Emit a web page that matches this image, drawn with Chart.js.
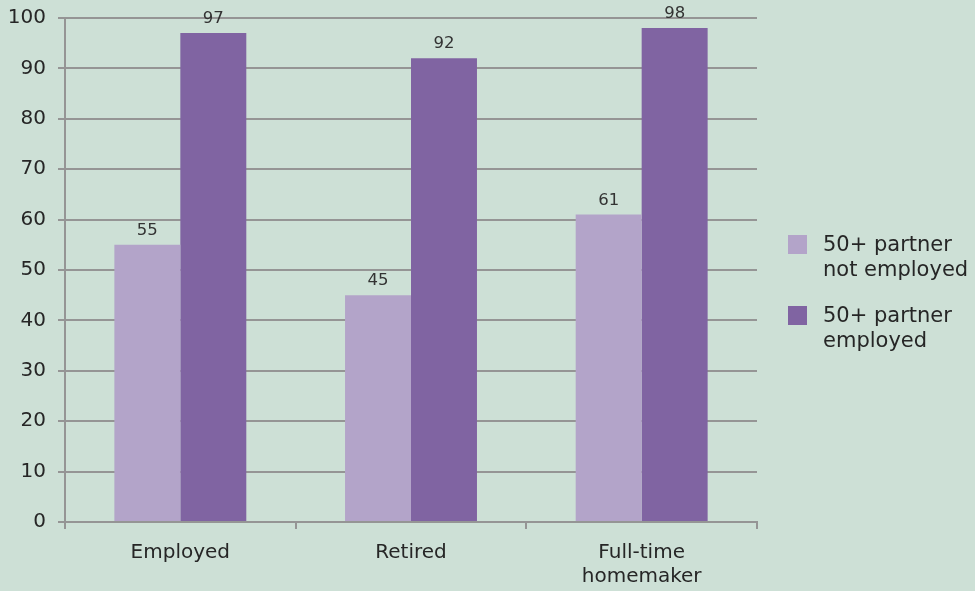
<!DOCTYPE html>
<html>
<head>
<meta charset="utf-8">
<script src="https://cdn.jsdelivr.net/npm/chart.js@4/dist/chart.umd.min.js"></script>
<style>
  html, body { margin: 0; padding: 0; background: #cde0d6; }
  #wrap { position: relative; width: 975px; height: 591px; }
  #leyenda {
    position: absolute; left: 788px; top: 232px;
    font-family: "DejaVu Sans", Verdana, sans-serif; font-size: 21px; color: #262626;
    line-height: 25px;
  }
  .item { display: flex; align-items: flex-start; margin-bottom: 21px; }
  .caja { width: 19px; height: 19px; margin-top: 3px; margin-right: 16px; flex: none; }
</style>
</head>
<body>
<div id="wrap">
  <canvas id="grafico" width="975" height="591"></canvas>
  <div id="leyenda"></div>
</div>
<script>
// Datos
const categorias = ["Employed", "Retired", ["Full-time", "homemaker"]];
const noEmpleado = [55, 45, 61];
const empleado = [97, 92, 98];
const etiquetasSeries = [["50+ partner", "not employed"], ["50+ partner", "employed"]];
const colores = ["#b3a4c9", "#8064a2"];

const fuente = "'DejaVu Sans', Verdana, sans-serif";
const colorTexto = "#262626";
const colorRejilla = "#959595";

// Valores encima de cada barra
const etiquetasValor = {
  id: "etiquetasValor",
  afterDatasetsDraw(chart) {
    const ctx = chart.ctx;
    ctx.save();
    ctx.font = "16.5px " + fuente;
    ctx.fillStyle = "#333";
    ctx.textAlign = "center";
    ctx.textBaseline = "alphabetic";
    chart.data.datasets.forEach((ds, i) => {
      chart.getDatasetMeta(i).data.forEach((bar, j) => {
        ctx.fillText(ds.data[j], bar.x, bar.y - 10);
      });
    });
    ctx.restore();
  }
};

const ctx = document.getElementById("grafico").getContext("2d");
new Chart(ctx, {
  type: "bar",
  data: {
    labels: categorias,
    datasets: [
      { label: etiquetasSeries[0].join(" "), data: noEmpleado, backgroundColor: colores[0] },
      { label: etiquetasSeries[1].join(" "), data: empleado, backgroundColor: colores[1] }
    ]
  },
  options: {
    responsive: false,
    animation: false,
    devicePixelRatio: 1,
    layout: { padding: { left: 0, right: 218, top: 18, bottom: 0 } },
    datasets: { bar: { categoryPercentage: 0.572, barPercentage: 1 } },
    plugins: { legend: { display: false }, tooltip: { enabled: false } },
    scales: {
      x: {
        afterFit: s => { s.height = 69; },
        grid: { offset: true, drawOnChartArea: false, color: colorRejilla, lineWidth: 2, tickLength: 7 },
        border: { color: colorRejilla, width: 2 },
        ticks: { color: colorTexto, font: { family: fuente, size: 20 }, padding: 12, maxRotation: 0 }
      },
      y: {
        min: 0, max: 100,
        afterFit: s => { s.width = 65; s.paddingTop = 0; s.paddingBottom = 0; },
        grid: { color: colorRejilla, lineWidth: 2, tickLength: 7 },
        border: { color: colorRejilla, width: 2 },
        ticks: { stepSize: 10, color: colorTexto, font: { family: fuente, size: 20 }, padding: 12 }
      }
    }
  },
  plugins: [etiquetasValor]
});

// Leyenda a la derecha
const leyenda = document.getElementById("leyenda");
etiquetasSeries.forEach((lineas, i) => {
  const item = document.createElement("div");
  item.className = "item";
  const caja = document.createElement("div");
  caja.className = "caja";
  caja.style.background = colores[i];
  const texto = document.createElement("div");
  texto.innerHTML = lineas.join("<br>");
  item.appendChild(caja);
  item.appendChild(texto);
  leyenda.appendChild(item);
});
</script>
</body>
</html>
